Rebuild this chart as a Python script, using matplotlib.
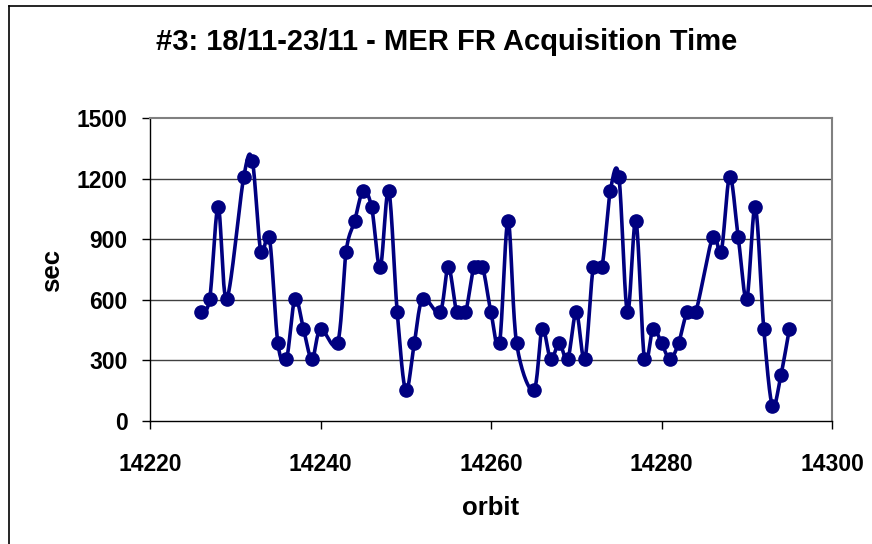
import numpy as np
import matplotlib
matplotlib.use("Agg")
import matplotlib.pyplot as plt
from matplotlib.lines import Line2D

plt.rcParams['font.family'] = ['Liberation Sans', 'DejaVu Sans']

title = "#3: 18/11-23/11 - MER FR Acquisition Time"
orbits = [14226, 14227, 14228, 14229, 14231, 14232, 14233, 14234, 14235, 14236,
          14237, 14238, 14239, 14240, 14242, 14243, 14244, 14245, 14246, 14247,
          14248, 14249, 14250, 14251, 14252, 14254, 14255, 14256, 14257, 14258,
          14259, 14260, 14261, 14262, 14263, 14265, 14266, 14267, 14268, 14269,
          14270, 14271, 14272, 14273, 14274, 14275, 14276, 14277, 14278, 14279,
          14280, 14281, 14282, 14283, 14284, 14286, 14287, 14288, 14289, 14290,
          14291, 14292, 14293, 14294, 14295]
secs = [537, 605, 1058, 605, 1210, 1290, 838, 910, 385, 305,
        605, 455, 305, 455, 385, 838, 990, 1140, 1058, 760,
        1140, 537, 150, 385, 605, 537, 760, 537, 537, 760,
        760, 537, 385, 990, 385, 150, 455, 305, 385, 305,
        537, 305, 760, 760, 1140, 1210, 537, 990, 305, 455,
        385, 305, 385, 537, 537, 910, 838, 1210, 910, 605,
        1058, 455, 75, 225, 455]
x_ticks = [14220, 14240, 14260, 14280, 14300]
y_ticks = [0, 300, 600, 900, 1200, 1500]

W, H = 872, 544
fig = plt.figure(figsize=(W / 100, H / 100), dpi=100)
ax = fig.add_axes([150 / W, 1 - 420.7 / H, (832 - 150) / W, (420.7 - 118.3) / H])

# Excel-like smoothed line (Catmull-Rom through the data points)
x = np.asarray(orbits, float)
y = np.asarray(secs, float)
xp = np.concatenate([[x[0]], x, [x[-1]]])
yp = np.concatenate([[y[0]], y, [y[-1]]])
t = np.linspace(0, 1, 30)
sx, sy = [], []
for i in range(1, len(xp) - 2):
    p0x, p1x, p2x, p3x = xp[i - 1:i + 3]
    p0y, p1y, p2y, p3y = yp[i - 1:i + 3]
    c1x, c1y = p1x + (p2x - p0x) / 6, p1y + (p2y - p0y) / 6
    c2x, c2y = p2x - (p3x - p1x) / 6, p2y - (p3y - p1y) / 6
    b = [(1 - t) ** 3, 3 * (1 - t) ** 2 * t, 3 * (1 - t) * t ** 2, t ** 3]
    sx.append(b[0] * p1x + b[1] * c1x + b[2] * c2x + b[3] * p2x)
    sy.append(b[0] * p1y + b[1] * c1y + b[2] * c2y + b[3] * p2y)
sx = np.concatenate(sx)
sy = np.concatenate(sy)

ax.plot(sx, sy, color='#000080', lw=2.6, solid_capstyle='round', zorder=3)
ax.plot(x, y, 'o', color='#000080', ms=9.5, zorder=4)

ax.set_xlim(14220, 14300)
ax.set_ylim(0, 1500)
ax.set_xticks(x_ticks)
ax.set_yticks(y_ticks)
ax.set_xticklabels([str(v) for v in x_ticks])
ax.set_yticklabels([str(v) for v in y_ticks])
for v in y_ticks[1:-1]:
    ax.axhline(v, color='#404040', lw=1.0, zorder=1)

for s in ['top', 'right']:
    ax.spines[s].set_color('#808080')
    ax.spines[s].set_linewidth(1.5)
for s in ['left', 'bottom']:
    ax.spines[s].set_color('black')
    ax.spines[s].set_linewidth(1.0)

ax.tick_params(axis='x', direction='out', length=6, width=1, pad=17,
               labelsize=16.5)
ax.tick_params(axis='y', direction='out', length=6, width=1, pad=10,
               labelsize=16.5)
for lab in ax.get_xticklabels() + ax.get_yticklabels():
    lab.set_fontweight('bold')

fig.text(447 / W, 1 - 42 / H, title, ha='center', va='center',
         fontsize=21, fontweight='bold')
fig.text(52 / W, 1 - 270 / H, 'sec', ha='center', va='center', rotation=90,
         fontsize=18.5, fontweight='bold')
fig.text(491 / W, 1 - 508 / H, 'orbit', ha='center', va='center',
         fontsize=18.5, fontweight='bold')

# figure border (left and top)
fig.add_artist(Line2D([9 / W, 9 / W], [0, 1 - 6 / H], color='black', lw=1.2,
                      transform=fig.transFigure))
fig.add_artist(Line2D([9 / W, 1], [1 - 6 / H, 1 - 6 / H], color='black', lw=1.2,
                      transform=fig.transFigure))

fig.savefig('out.png', dpi=100)
